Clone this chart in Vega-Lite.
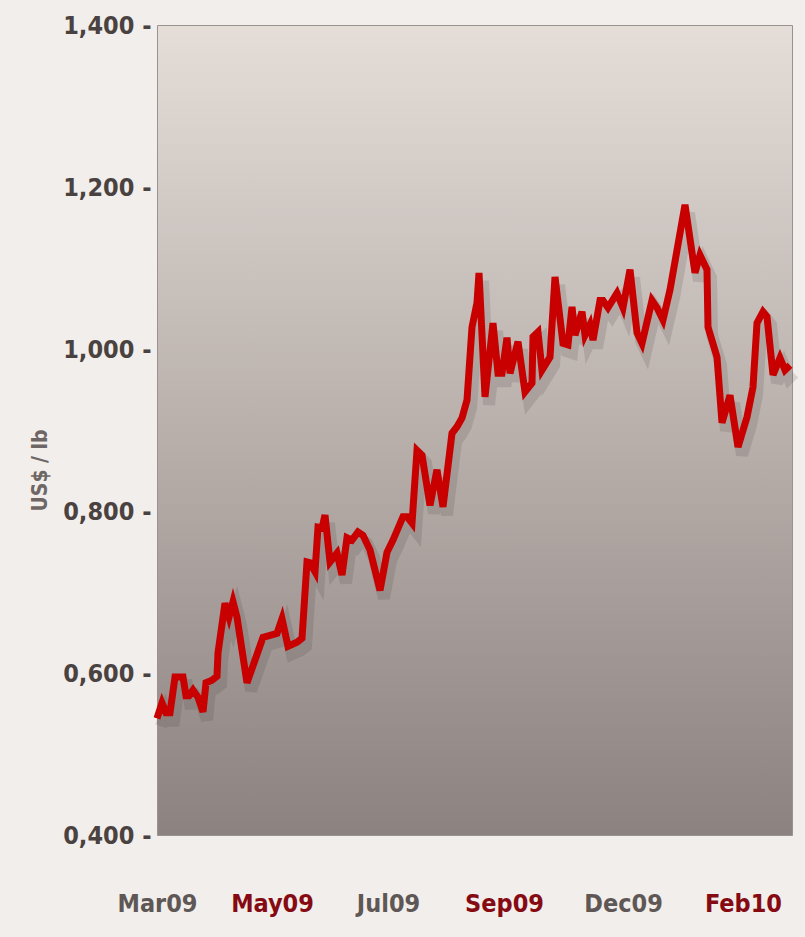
{
  "$schema": "https://vega.github.io/schema/vega-lite/v6.json",
  "autosize": {"type": "none"},
  "padding": {"left": 157, "top": 25, "right": 13, "bottom": 102},
  "width": 635,
  "height": 810,
  "background": "#f1eeeb",
  "config": {
    "view": {
      "stroke": "#9a9290", "strokeWidth": 1,
      "fill": {
        "gradient": "linear", "x1": 0, "y1": 0, "x2": 0, "y2": 1,
        "stops": [
          {"offset": 0, "color": "#e4ddd8"},
          {"offset": 0.5, "color": "#b9b0ac"},
          {"offset": 1, "color": "#8c8381"}
        ]
      }
    }
  },
  "datasets": {
    "price": [
      {"t": 0, "v": 0.544}, {"t": 5, "v": 0.563}, {"t": 9, "v": 0.551}, {"t": 13, "v": 0.551},
      {"t": 18, "v": 0.595}, {"t": 26, "v": 0.595}, {"t": 29, "v": 0.572}, {"t": 32, "v": 0.572},
      {"t": 36, "v": 0.579}, {"t": 41, "v": 0.570}, {"t": 46, "v": 0.552}, {"t": 49, "v": 0.588},
      {"t": 55, "v": 0.591}, {"t": 60, "v": 0.596}, {"t": 61, "v": 0.625}, {"t": 68, "v": 0.686},
      {"t": 72, "v": 0.669}, {"t": 76, "v": 0.688}, {"t": 80, "v": 0.669}, {"t": 90, "v": 0.588},
      {"t": 106, "v": 0.644}, {"t": 120, "v": 0.649}, {"t": 125, "v": 0.667}, {"t": 131, "v": 0.633},
      {"t": 140, "v": 0.638}, {"t": 145, "v": 0.643}, {"t": 150, "v": 0.737}, {"t": 153, "v": 0.736},
      {"t": 158, "v": 0.725}, {"t": 161, "v": 0.780}, {"t": 165, "v": 0.779}, {"t": 168, "v": 0.795},
      {"t": 173, "v": 0.737}, {"t": 180, "v": 0.748}, {"t": 185, "v": 0.721}, {"t": 190, "v": 0.767},
      {"t": 195, "v": 0.764}, {"t": 201, "v": 0.774}, {"t": 206, "v": 0.770}, {"t": 213, "v": 0.752},
      {"t": 223, "v": 0.702}, {"t": 230, "v": 0.749}, {"t": 236, "v": 0.764}, {"t": 246, "v": 0.793},
      {"t": 250, "v": 0.793}, {"t": 255, "v": 0.785}, {"t": 260, "v": 0.875}, {"t": 265, "v": 0.869},
      {"t": 273, "v": 0.807}, {"t": 280, "v": 0.851}, {"t": 286, "v": 0.805}, {"t": 295, "v": 0.896},
      {"t": 300, "v": 0.904}, {"t": 305, "v": 0.915}, {"t": 310, "v": 0.937}, {"t": 315, "v": 1.027},
      {"t": 320, "v": 1.057}, {"t": 322, "v": 1.094}, {"t": 328, "v": 0.941}, {"t": 336, "v": 1.032},
      {"t": 341, "v": 0.970}, {"t": 345, "v": 0.970}, {"t": 350, "v": 1.014}, {"t": 353, "v": 0.970},
      {"t": 361, "v": 1.009}, {"t": 368, "v": 0.947}, {"t": 375, "v": 0.958}, {"t": 376, "v": 1.015},
      {"t": 381, "v": 1.021}, {"t": 385, "v": 0.974}, {"t": 393, "v": 0.990}, {"t": 398, "v": 1.089},
      {"t": 406, "v": 1.007}, {"t": 411, "v": 1.005}, {"t": 415, "v": 1.052}, {"t": 418, "v": 1.017},
      {"t": 425, "v": 1.046}, {"t": 428, "v": 1.017}, {"t": 433, "v": 1.030}, {"t": 436, "v": 1.011},
      {"t": 443, "v": 1.060}, {"t": 446, "v": 1.060}, {"t": 451, "v": 1.051}, {"t": 460, "v": 1.069},
      {"t": 466, "v": 1.051}, {"t": 473, "v": 1.098}, {"t": 480, "v": 1.020}, {"t": 485, "v": 1.007},
      {"t": 495, "v": 1.060}, {"t": 500, "v": 1.051}, {"t": 506, "v": 1.036}, {"t": 513, "v": 1.073},
      {"t": 528, "v": 1.178}, {"t": 538, "v": 1.094}, {"t": 543, "v": 1.116}, {"t": 550, "v": 1.098},
      {"t": 551, "v": 1.027}, {"t": 560, "v": 0.990}, {"t": 565, "v": 0.909}, {"t": 573, "v": 0.943},
      {"t": 581, "v": 0.879}, {"t": 590, "v": 0.916}, {"t": 596, "v": 0.953}, {"t": 600, "v": 1.032},
      {"t": 606, "v": 1.046}, {"t": 610, "v": 1.040}, {"t": 616, "v": 0.968}, {"t": 623, "v": 0.989},
      {"t": 628, "v": 0.974}, {"t": 633, "v": 0.980}
    ]
  },
  "data": {"name": "price"},
  "encoding": {
    "x": {
      "field": "t", "type": "quantitative",
      "scale": {"domain": [0, 635], "nice": false, "zero": false},
      "axis": {
        "title": null, "grid": false, "domain": false, "ticks": false,
        "values": [0, 115, 231, 347, 466, 586],
        "labelExpr": "datum.value == 0 ? 'Mar09' : datum.value == 115 ? 'May09' : datum.value == 231 ? 'Jul09' : datum.value == 347 ? 'Sep09' : datum.value == 466 ? 'Dec09' : 'Feb10'",
        "labelFont": "DejaVu Sans Condensed, sans-serif",
        "labelFontSize": 25, "labelFontWeight": "bold",
        "labelPadding": 56, "labelFlush": false, "labelOverlap": false, "labelBound": false,
        "labelColor": {"condition": {"test": "datum.value == 115 || datum.value == 347 || datum.value == 586", "value": "#850a12"}, "value": "#5f5755"}
      }
    },
    "y": {
      "field": "v", "type": "quantitative",
      "scale": {"domain": [0.4, 1.4], "nice": false, "zero": false},
      "axis": {
        "title": "US$ / lb", "grid": false, "domain": false, "ticks": false,
        "values": [0.4, 0.6, 0.8, 1.0, 1.2, 1.4],
        "labelExpr": "replace(format(datum.value, '.3f'), '.', ',') + ' -'",
        "labelFont": "DejaVu Sans Condensed, sans-serif",
        "labelFontSize": 25, "labelFontWeight": "bold", "labelColor": "#4a4240",
        "labelPadding": 6, "labelOverlap": false, "labelBound": false, "labelFlush": false,
        "titleFont": "DejaVu Sans Condensed, sans-serif",
        "titleFontSize": 21, "titleFontWeight": "bold", "titleColor": "#6e6664",
        "titleX": -117, "titleY": 445, "titleAngle": -90, "titleAlign": "center", "titleBaseline": "middle"
      }
    }
  },
  "layer": [
    {
      "mark": {"type": "line", "color": "#2e2220", "opacity": 0.13, "strokeWidth": 12, "xOffset": 4, "yOffset": 8}
    },
    {
      "mark": {"type": "line", "color": "#c80000", "strokeWidth": 7}
    }
  ]
}
